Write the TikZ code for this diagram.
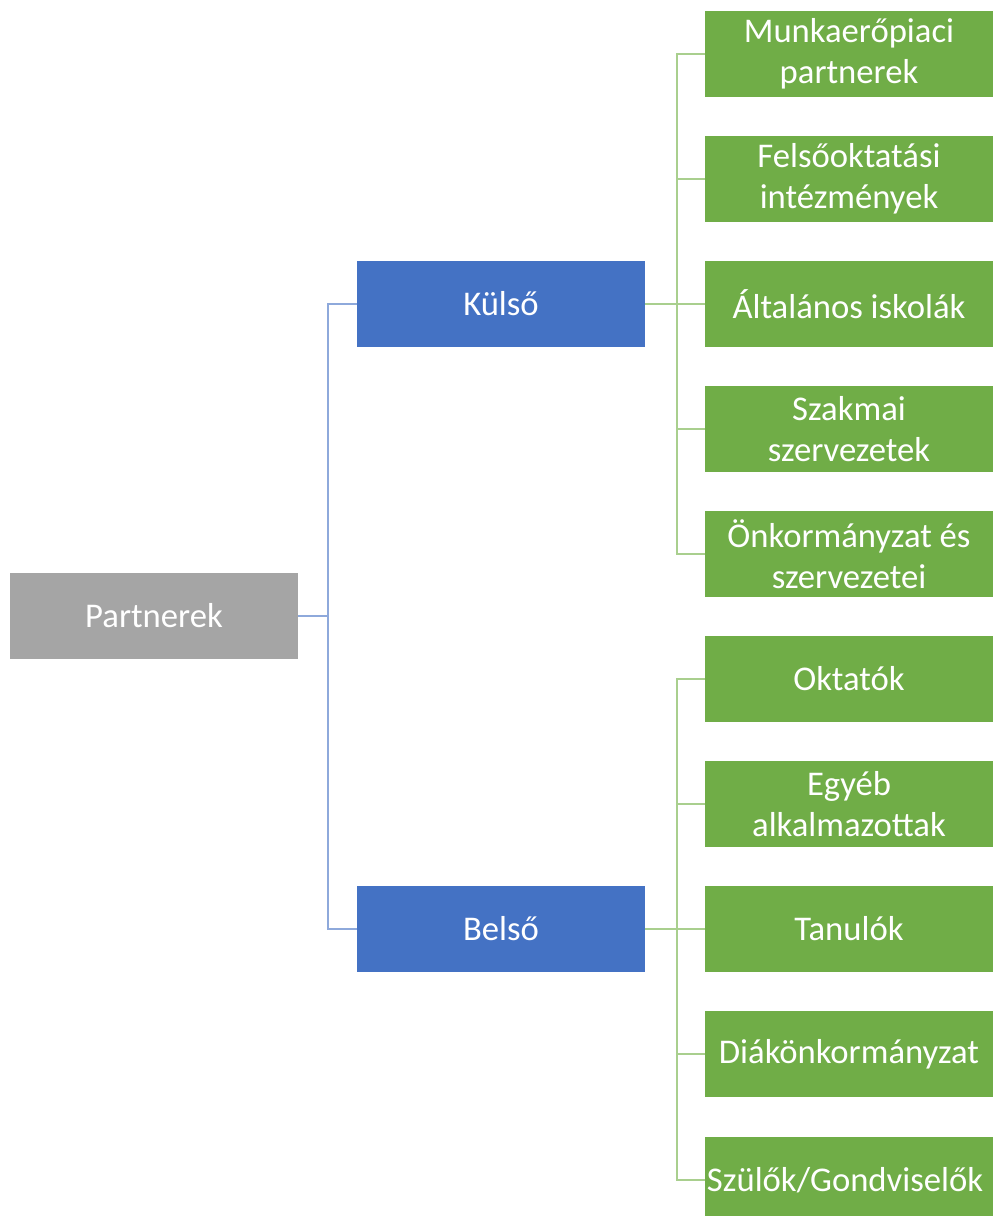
\documentclass[tikz,border=0pt]{standalone}
\usepackage{fontspec}
\setmainfont{Carlito}
\definecolor{szurke}{HTML}{A5A5A5}
\definecolor{kek}{HTML}{4472C4}
\definecolor{zold}{HTML}{70AD47}
\definecolor{kekvonal}{HTML}{8EA9DB}
\definecolor{zoldvonal}{HTML}{A9CF8E}
\tikzset{
  doboz/.style={rectangle, minimum width=216pt, minimum height=65pt, inner xsep=0pt,
    align=center, text=white, font=\fontsize{26}{31}\selectfont},
  gyoker/.style={doboz, fill=szurke},
  csoport/.style={doboz, fill=kek},
  elem/.style={doboz, fill=zold},
  kekel/.style={draw=kekvonal, line width=1.2pt},
  zoldel/.style={draw=zoldvonal, line width=1.2pt}
}
\begin{document}
\begin{tikzpicture}[x=0.75pt, y=-0.75pt]
	\useasboundingbox (0,0) rectangle (995,1216);
	\begin{scope}
		\clip (0,0) rectangle (995,1216);
		
		% Hauptknoten
		\node[gyoker] (partnerek) at (154,616) {Partnerek};
		\node[csoport] (kulso) at (501,304) {Külső};
		\node[csoport] (belso) at (501,929) {Belső};
		
		% Verzweigungspunkte
		\coordinate (pj) at (328,616);
		\coordinate (kj) at (677,304);
		\coordinate (bj) at (677,929);
		
		% Externe Partner
		\foreach \nr/\y/\szoveg in {
			1/54/Munkaerőpiaci\\partnerek,
			2/179/Felsőoktatási\\intézmények,
			3/304/Általános iskolák,
			4/429/Szakmai\\szervezetek,
			5/554/Önkormányzat és\\szervezetei
		} {
			\node[elem] (k\nr) at (849,\y) {\szoveg}; % grüne Box
			\draw[zoldel] (kj) |- (k\nr.west); % Linie zur Box
		}
		
		% Interne Partner
		\foreach \nr/\y/\szoveg in {
			1/679/Oktatók,
			2/804/Egyéb\\alkalmazottak,
			3/929/Tanulók,
			4/1054/Diákönkormányzat,
			5/1180/{Szülők/Gondviselők}
		} {
			\node[elem] (b\nr) at (849,\y) {\szoveg}; % grüne Box
			\draw[zoldel] (bj) |- (b\nr.west); % Linie zur Box
		}
		
		% Verbindungen
		\draw[zoldel] (kulso.east) -- (kj);
		\draw[zoldel] (belso.east) -- (bj);
		\draw[kekel] (partnerek.east) -- (pj);
		\draw[kekel] (pj) |- (kulso.west);
		\draw[kekel] (pj) |- (belso.west);
	\end{scope}
\end{tikzpicture}
\end{document}
